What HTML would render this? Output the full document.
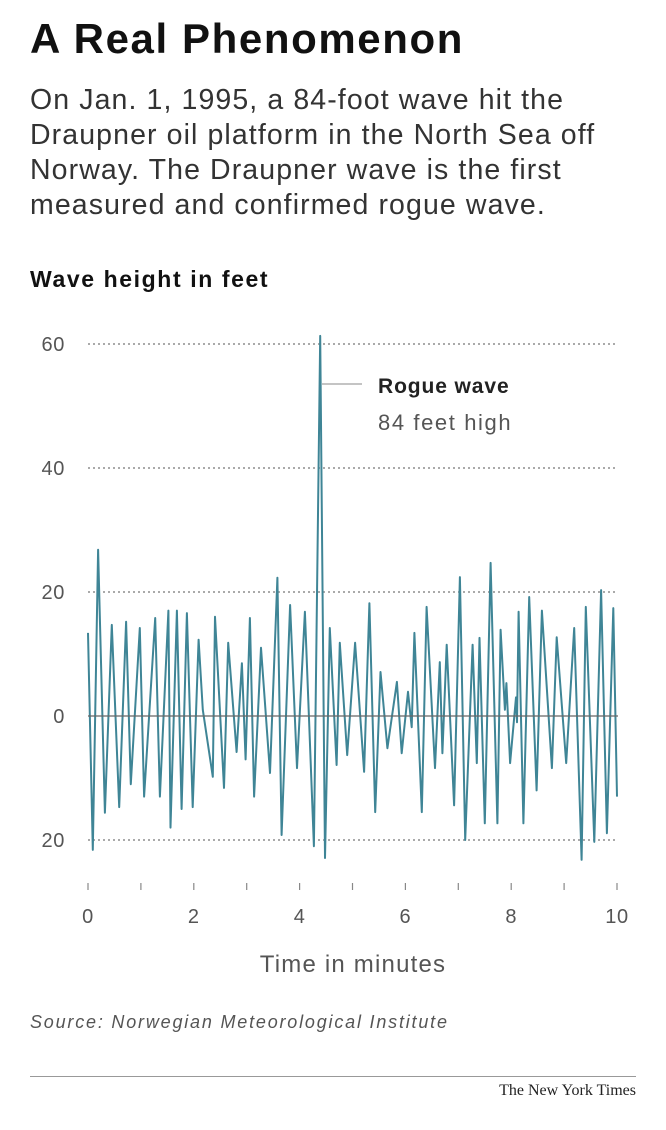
<!DOCTYPE html>
<html><head><meta charset="utf-8"><style>
body{margin:0;background:#fff;width:666px;height:1130px;overflow:hidden;font-family:"Liberation Sans",sans-serif;}
.t{position:absolute;margin:0;white-space:nowrap}
</style></head><body>
<div class="t" style="left:30px;top:15px;font-size:42px;font-weight:bold;color:#111;letter-spacing:1.6px">A Real Phenomenon</div>
<div class="t" style="left:30px;top:83px;font-size:28.5px;line-height:35px;color:#333;letter-spacing:1.1px">On Jan. 1, 1995, a 84-foot wave hit the<br>Draupner oil platform in the North Sea off<br>Norway. The Draupner wave is the first<br>measured and confirmed rogue wave.</div>
<div class="t" style="left:30px;top:266px;font-size:23px;font-weight:bold;color:#111;letter-spacing:1.6px">Wave height in feet</div>
<svg id="chart" width="666" height="1000" style="position:absolute;left:0;top:0"></svg>
<div class="t" style="left:30px;top:1012px;font-size:18px;font-style:italic;color:#555;letter-spacing:1.8px">Source: Norwegian Meteorological Institute</div>
<div class="t" style="left:30px;top:1076px;width:606px;height:1px;background:#999"></div>
<div class="t" style="right:30px;top:1082px;font-size:16px;font-family:'Liberation Serif',serif;color:#222">The New York Times</div>
<script>
const times=[0,0.09,0.19,0.32,0.45,0.59,0.72,0.81,0.98,1.06,1.27,1.36,1.52,1.56,1.68,1.77,1.87,1.98,2.09,2.17,2.36,2.40,2.57,2.65,2.81,2.91,2.98,3.06,3.14,3.27,3.44,3.58,3.66,3.82,3.95,4.10,4.27,4.39,4.48,4.57,4.70,4.76,4.90,5.05,5.22,5.32,5.43,5.53,5.66,5.84,5.93,6.05,6.12,6.17,6.31,6.40,6.56,6.65,6.70,6.78,6.92,7.03,7.13,7.27,7.35,7.40,7.50,7.61,7.74,7.80,7.88,7.91,7.98,8.09,8.11,8.14,8.23,8.34,8.48,8.58,8.77,8.86,9.04,9.19,9.33,9.41,9.57,9.70,9.81,9.93,10.0];
const heights=[13.4,-21.6,26.8,-15.6,14.7,-14.7,15.2,-11,14.2,-13,15.8,-13,17,-18,17,-15,16.6,-14.7,12.3,1,-9.8,16,-11.6,11.8,-5.8,8.5,-7,15.8,-13,11,-9.2,22.3,-19.2,17.9,-8.4,16.8,-21,61.3,-22.9,14.2,-7.9,11.8,-6.3,11.8,-9,18.2,-15.5,7.1,-5.2,5.5,-6,3.9,-1.8,13.4,-15.5,17.6,-8.4,8.7,-6,11.5,-14.4,22.4,-20,11.5,-7.6,12.6,-17.3,24.7,-17.3,13.9,1,5.3,-7.6,3,-1,16.8,-17.3,19.2,-12,17,-8.4,12.7,-7.6,14.2,-23.2,17.6,-20.3,20.3,-18.9,17.4,-13];
const yTicks=[60,40,20,0,-20];
const yTickLabels=["60","40","20","0","20"];
const xTicks=[0,2,4,6,8,10];
const NS="http://www.w3.org/2000/svg";
const svg=document.getElementById('chart');
const X=t=>88+t*52.9, Y=v=>716-v*6.2;
function el(tag,attrs){const e=document.createElementNS(NS,tag);for(const k in attrs)e.setAttribute(k,attrs[k]);svg.appendChild(e);return e;}
yTicks.forEach((v,i)=>{
  if(v!==0){const g=el('line',{x1:88,x2:618,y1:Y(v),y2:Y(v),stroke:'#777','stroke-width':1.2,'stroke-dasharray':'2,3'});
  
  }
  const t=el('text',{x:65,y:Y(v)+7,'text-anchor':'end','font-size':20,fill:'#555','font-family':'Liberation Sans, sans-serif','letter-spacing':0.6});
  t.textContent=yTickLabels[i];
  
  
});
for(let i=0;i<=10;i++){const tk=el('line',{x1:X(i),x2:X(i),y1:883,y2:890,stroke:'#888','stroke-width':1.2});

}
xTicks.forEach(v=>{const t=el('text',{x:X(v),y:923,'text-anchor':'middle','font-size':20,fill:'#555','font-family':'Liberation Sans, sans-serif','letter-spacing':0.6});
t.textContent=v;

});
const xt=el('text',{x:353,y:972,'text-anchor':'middle','font-size':24,fill:'#555','font-family':'Liberation Sans, sans-serif','letter-spacing':1.2});
xt.textContent='Time in minutes';


const p=el('path',{d:times.map((t,i)=>(i?'L':'M')+X(t).toFixed(1)+','+Y(heights[i]).toFixed(1)).join(''),fill:'none',stroke:'#3f8596','stroke-width':2,'stroke-linejoin':'round'});


const zl=el('line',{x1:88,x2:618,y1:Y(0),y2:Y(0),stroke:'#666','stroke-width':1.3});


const al=el('line',{x1:322,x2:362,y1:384,y2:384,stroke:'#888','stroke-width':1});


const a1=el('text',{x:378,y:393,'font-size':21,'font-weight':'bold',fill:'#222','font-family':'Liberation Sans, sans-serif','letter-spacing':0.9});
a1.textContent='Rogue wave';


const a2=el('text',{x:378,y:430,'font-size':22,fill:'#555','font-family':'Liberation Sans, sans-serif','letter-spacing':1.6});
a2.textContent='84 feet high';


</script>
</body></html>
